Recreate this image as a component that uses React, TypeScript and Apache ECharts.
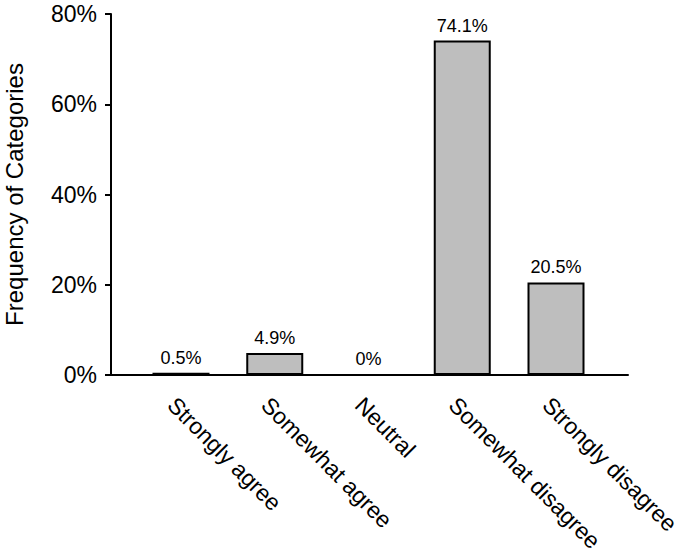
import React, { useEffect, useRef } from "react";
import * as echarts from "echarts";

const categories = ["Strongly agree", "Somewhat agree", "Neutral", "Somewhat disagree", "Strongly disagree"];
const positions = [1, 2, 3, 4, 5];
const values = [0.5, 4.9, 0, 74.1, 20.5];
const valueLabels = ["0.5%", "4.9%", "0%", "74.1%", "20.5%"];
const yTicks = [0, 20, 40, 60, 80];

export default function App() {
  const ref = useRef<HTMLDivElement>(null);
  useEffect(() => {
    const chart = echarts.init(ref.current!, null, { renderer: "svg" });
    const font = "Liberation Sans, Arial, sans-serif";
    const xMin = 0.2533;
    const xMax = 5.768;
    const labelShift = 0.1;
    chart.setOption({
      animation: false,
      backgroundColor: "#ffffff",
      textStyle: { fontFamily: font },
      grid: { left: 111, right: 63, top: 14, bottom: 182, containLabel: false, outerBoundsMode: "none" },
      xAxis: [
        {
          type: "value",
          min: xMin,
          max: xMax,
          splitLine: { show: false },
          axisLine: { show: true, onZero: false, lineStyle: { color: "#000", width: 2 } },
          axisTick: { show: false },
          axisLabel: { show: false },
        },
        {
          type: "value",
          position: "bottom",
          min: xMin + labelShift,
          max: xMax + labelShift,
          splitLine: { show: false },
          axisLine: { show: false },
          axisTick: { show: false },
          axisLabel: {
            customValues: positions,
            formatter: (v: number) => categories[Math.round(v) - 1] ?? "",
            rotate: -45,
            margin: 26,
            color: "#000",
            fontSize: 23,
            fontFamily: font,
            showMinLabel: true,
            showMaxLabel: true,
          },
        },
      ],
      yAxis: {
        type: "value",
        min: yTicks[0],
        max: yTicks[yTicks.length - 1],
        interval: 20,
        name: "Frequency of Categories",
        nameLocation: "middle",
        nameGap: 85,
        nameTextStyle: { color: "#000", fontSize: 24, fontFamily: font },
        splitLine: { show: false },
        axisLine: { show: true, lineStyle: { color: "#000", width: 2 } },
        axisTick: { show: true, length: 6, lineStyle: { color: "#000", width: 2 } },
        axisLabel: {
          formatter: "{value}%",
          color: "#000",
          fontSize: 23,
          margin: 14,
          fontFamily: font,
        },
      },
      series: [
        {
          type: "bar",
          xAxisIndex: 0,
          barWidth: 57,
          data: values.map((v, i) => [positions[i], v]),
          itemStyle: { color: "#bebebe", borderColor: "#000", borderWidth: 2 },
          label: {
            show: true,
            position: "top",
            distance: 6,
            color: "#000",
            fontSize: 18,
            fontFamily: font,
            formatter: (p: any) => valueLabels[p.dataIndex],
          },
        },
      ],
    });
    return () => chart.dispose();
  }, []);
  return <div ref={ref} style={{ width: 691, height: 557, position: "absolute", left: 0, top: 0 }} />;
}
